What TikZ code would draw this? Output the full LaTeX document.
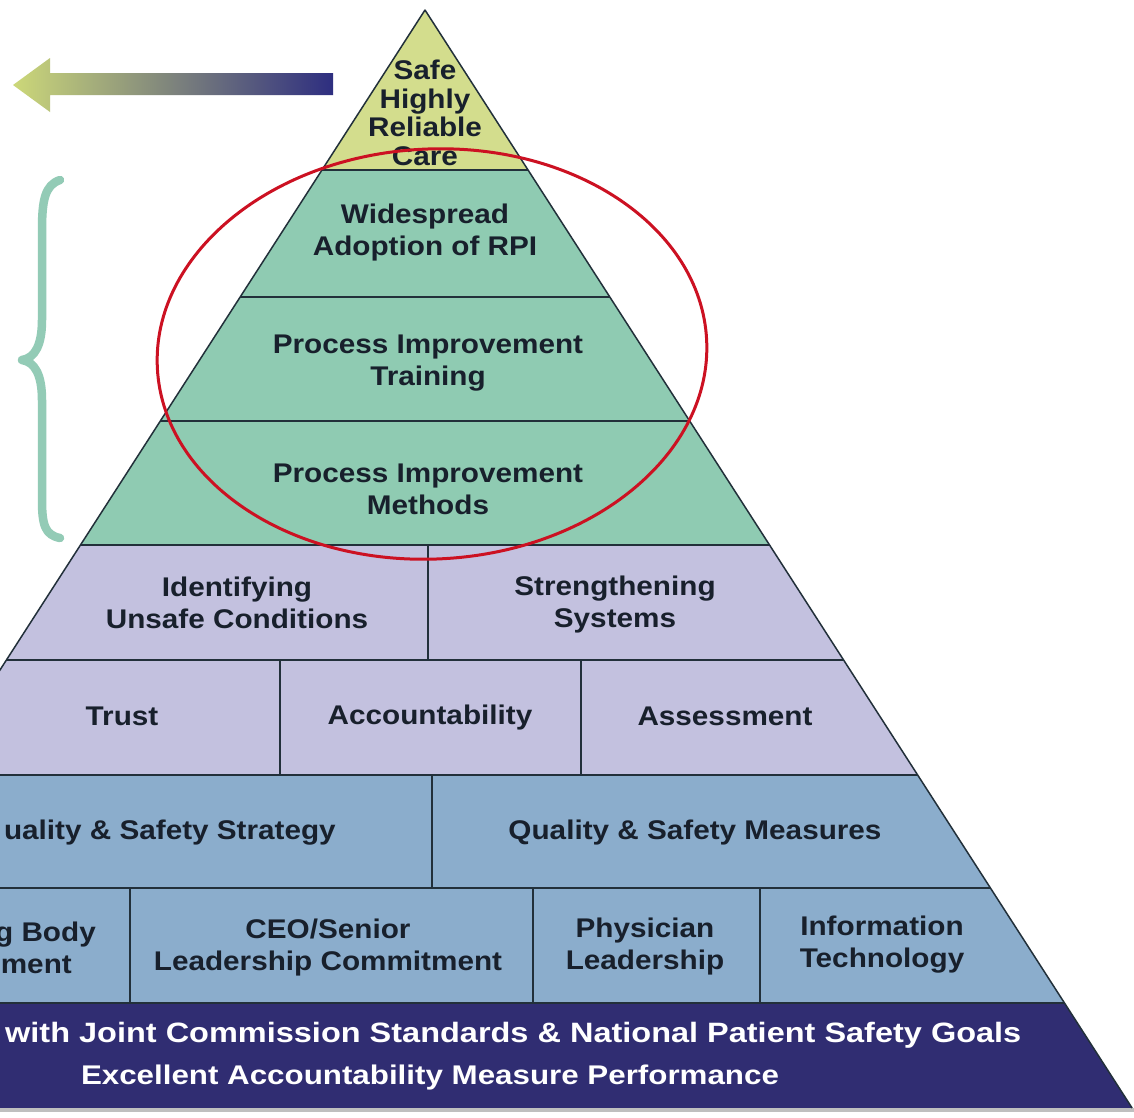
\documentclass[tikz,border=0pt]{standalone}
\usepackage{fontspec}
\setmainfont{Liberation Sans}
\newfontfamily\pyrfont{Liberation Sans}[FakeStretch=1.1]
\newfontfamily\basefont{Liberation Sans}[FakeStretch=1.16]
\definecolor{cYel}{HTML}{D3DD8D}
\definecolor{cGrn}{HTML}{8FCBB2}
\definecolor{cPur}{HTML}{C3C1DF}
\definecolor{cBlu}{HTML}{8BADCC}
\definecolor{cNav}{HTML}{302D72}
\definecolor{cLine}{HTML}{22303A}
\definecolor{cTxt}{HTML}{18202C}
\definecolor{cRed}{HTML}{CC1122}
\definecolor{cArrL}{HTML}{CCD879}
\definecolor{cArrR}{HTML}{2E2E80}
\definecolor{cBrace}{HTML}{93CBB6}
\begin{document}
\begin{tikzpicture}[x=1pt,y=-1pt,
  band/.style={draw=cLine, line width=1.5pt, line join=round},
  divider/.style={draw=cLine, line width=1.6pt},
  lbl/.style={font=\pyrfont\bfseries\fontsize{27}{32}\selectfont, text=cTxt, align=center, inner sep=0pt},
  toplbl/.style={font=\pyrfont\bfseries\fontsize{27}{28.5}\selectfont, text=cTxt, align=center, inner sep=0pt},
  baselbl/.style={font=\basefont\bfseries\fontsize{28}{39}\selectfont, text=white, align=center, inner sep=0pt}]
\useasboundingbox (0,0) rectangle (1134,1117);
\clip (0,0) rectangle (1134,1117);
\fill[white] (0,0) rectangle (1134,1117);

% pyramid bands
\fill[cYel] (425,10) -- (528.0,170) -- (322.0,170) -- cycle;
\fill[cGrn] (322.0,170) -- (528.0,170) -- (769.5,545) -- (80.5,545) -- cycle;
\fill[cPur] (80.5,545) -- (769.5,545) -- (917.7,775) -- (-67.7,775) -- cycle;
\fill[cBlu] (-67.7,775) -- (917.7,775) -- (1064.5,1003) -- (-214.5,1003) -- cycle;
\fill[cNav] (-214.5,1003) -- (1064.5,1003) -- (1132.1,1108) -- (-282.1,1108) -- cycle;
\fill[black!25] (0,1108) rectangle (1134,1112);

% outline
\draw[band] (-282.1,1108) -- (425,10) -- (1132.1,1108);
% horizontal separators
\coordinate (l1) at (322.0,170);  \coordinate (r1) at (528.0,170);
\coordinate (l2) at (240.2,297);  \coordinate (r2) at (609.8,297);
\coordinate (l3) at (160.3,421);  \coordinate (r3) at (689.7,421);
\coordinate (l4) at (80.5,545);   \coordinate (r4) at (769.5,545);
\coordinate (l5) at (6.4,660);    \coordinate (r5) at (843.6,660);
\coordinate (l6) at (-67.7,775);  \coordinate (r6) at (917.7,775);
\coordinate (l7) at (-140.4,888); \coordinate (r7) at (990.4,888);
\coordinate (l8) at (-214.5,1003);\coordinate (r8) at (1064.5,1003);
\foreach \i in {1,...,8} {\draw[divider] (l\i) -- (r\i);}
% vertical dividers
\draw[divider] (428,545) -- (428,660);
\draw[divider] (280,660) -- (280,775);
\draw[divider] (581,660) -- (581,775);
\draw[divider] (432,775) -- (432,888);
\draw[divider] (130,888) -- (130,1003);
\draw[divider] (533,888) -- (533,1003);
\draw[divider] (760,888) -- (760,1003);

% labels
\node[toplbl] (safe) at (425,113) {Safe\\Highly\\Reliable\\Care};
\node[lbl] (wide) at (425,233) {Widespread\\Adoption of RPI};
\node[lbl] (train) at (428,363) {Process Improvement\\Training};
\node[lbl] (meth) at (428,489) {Process Improvement\\Methods};
\node[lbl] (ident) at (237,603) {Identifying\\Unsafe Conditions};
\node[lbl] (streng) at (615,605) {Strengthening\\Systems};
\node[lbl] (trust) at (122,716) {Trust};
\node[lbl] (acc) at (430,718) {Accountability};
\node[lbl] (assess) at (725,716) {Assessment};
\node[lbl, anchor=east] (qstrat) at (336,833) {uality \& Safety Strategy};
\node[lbl] (qmeas) at (695,833) {Quality \& Safety Measures};
\node[lbl, anchor=east] (gbody) at (96,935) {g Body};
\node[lbl, anchor=east] (gment) at (72,965) {ment};
\node[lbl] (ceo) at (328,948) {CEO/Senior\\Leadership Commitment};
\node[lbl] (phys) at (645,947) {Physician\\Leadership};
\node[lbl] (itech) at (882,945) {Information\\Technology};
\node[baselbl, anchor=west] (base1) at (5,1035) {with Joint Commission Standards \& National Patient Safety Goals};
\node[baselbl, font=\basefont\bfseries\fontsize{27}{39}\selectfont] (base2) at (430,1077) {Excellent Accountability Measure Performance};

% red ellipse
\draw[cRed, line width=3pt, rotate around={3:(432,354)}] (432,354) ellipse [x radius=275pt, y radius=205pt];

% gradient arrow
\shade[left color=cArrL, right color=cArrR]
  (13,85) -- (50,58) -- (50,73) -- (333,73) -- (333,95) -- (50,95) -- (50,112) -- cycle;

% brace
\draw[cBrace, line width=8.5pt, line cap=round, line join=round]
  (60,180) .. controls (45,185) and (42,200) .. (42,230) -- (42,320)
  .. controls (42,345) and (35,358) .. (22,360)
  .. controls (35,362) and (42,375) .. (42,400) -- (42,500)
  .. controls (42,525) and (45,535) .. (60,538);
\end{tikzpicture}
\end{document}
